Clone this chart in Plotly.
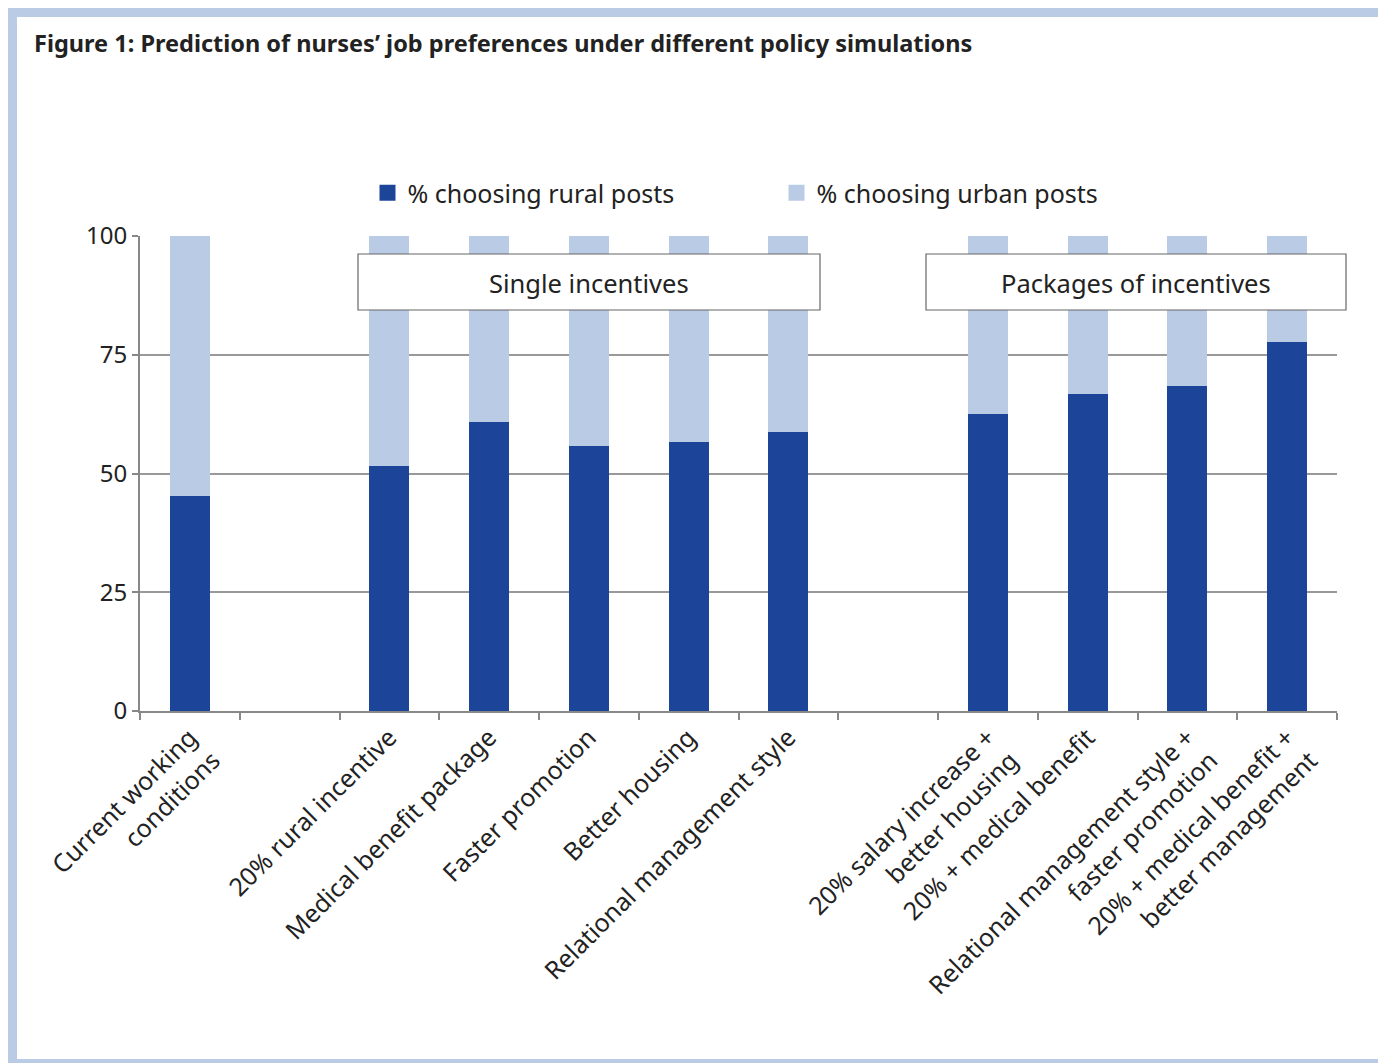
import plotly.graph_objects as go

categories = [
    "Current working<br>conditions", " ",
    "20% rural incentive", "Medical benefit package", "Faster promotion",
    "Better housing", "Relational management style", "  ",
    "20% salary increase +<br>better housing", "20% + medical benefit",
    "Relational management style +<br>faster promotion",
    "20% + medical benefit +<br>better management",
]
rural = [45.2, None, 51.6, 60.8, 55.8, 56.6, 58.7, None, 62.5, 66.7, 68.4, 77.7]
urban = [None if r is None else round(100 - r, 1) for r in rural]
series_names = ["% choosing rural posts", "% choosing urban posts"]
group_labels = ["Single incentives", "Packages of incentives"]
colors = ["#1C4498", "#BACBE6"]

# figure-pixel geometry (page is offset by the 8px body margin)
W, H = 1378, 1055
L, R, T, B = 132, 1329, 228, 703
FONT = "Noto Sans"
TXT = "#222222"

def px(x):
    return (x - L) / (R - L)

def py(y):
    return (B - y) / (B - T)

fig = go.Figure()
for vals, name, col in zip([rural, urban], series_names, colors):
    fig.add_trace(go.Bar(x=categories, y=vals, name=name, showlegend=False,
                         marker=dict(color=col, line=dict(width=0))))
# legend entries with larger square swatches
for name, col in zip(series_names, colors):
    fig.add_trace(go.Scatter(x=[None], y=[None], mode="markers", name=name,
                             marker=dict(symbol="square", size=17, color=col)))

shapes = []
border = "#BACBE6"
shapes.append(dict(type="rect", xref="paper", yref="paper", x0=px(0), x1=px(9), y0=py(H), y1=py(0),
                   fillcolor=border, line=dict(width=0), layer="below"))
shapes.append(dict(type="rect", xref="paper", yref="paper", x0=px(0), x1=px(W), y0=py(9), y1=py(0),
                   fillcolor=border, line=dict(width=0), layer="below"))
shapes.append(dict(type="rect", xref="paper", yref="paper", x0=px(0), x1=px(W), y0=py(H), y1=py(H - 4),
                   fillcolor=border, line=dict(width=0), layer="below"))

annotations = []
for (x0, x1), lab in zip([(350, 812), (918, 1338)], group_labels):
    shapes.append(dict(type="rect", xref="paper", yref="paper", x0=px(x0), x1=px(x1), y0=py(302), y1=py(246),
                       fillcolor="white", line=dict(color="#666666", width=1.2), layer="above"))
    annotations.append(dict(xref="paper", yref="paper", x=(px(x0) + px(x1)) / 2, y=py(275),
                            text=lab, showarrow=False, xanchor="center", yanchor="middle",
                            font=dict(family=FONT, size=25.5, color=TXT)))

annotations.append(dict(xref="paper", yref="paper", x=px(24), y=py(35), xanchor="left", yanchor="middle",
                        text="<b>Figure 1: Prediction of nurses’ job preferences under different policy simulations</b>",
                        showarrow=False, font=dict(family=FONT, size=23.5, color=TXT)))

fig.update_layout(
    width=W, height=H,
    margin=dict(l=L, r=W - R, t=T, b=H - B, pad=0),
    barmode="stack", bargap=0.6,
    paper_bgcolor="white", plot_bgcolor="white",
    showlegend=True,
    legend=dict(orientation="h", x=px(359.5), y=py(185), xanchor="left", yanchor="middle",
                font=dict(family=FONT, size=25, color=TXT),
                entrywidth=364, entrywidthmode="pixels", traceorder="normal",
                bgcolor="rgba(0,0,0,0)"),
    xaxis=dict(type="category", showgrid=False, showline=True, linecolor="#888888", linewidth=2,
               ticks="outside", tickson="boundaries", ticklen=7, tickwidth=2, tickcolor="#888888",
               tickangle=-45, tickfont=dict(family=FONT, size=25, color=TXT),
               range=[-0.5, 11.5]),
    yaxis=dict(range=[0, 100], tickvals=[0, 25, 50, 75, 100], showgrid=True, gridcolor="#999999",
               gridwidth=1.5, showline=True, linecolor="#888888", linewidth=2,
               ticks="outside", ticklen=6, tickwidth=2, tickcolor="#888888",
               tickfont=dict(family=FONT, size=24, color=TXT), zeroline=False),
    shapes=shapes, annotations=annotations,
    font=dict(family=FONT),
)

fig.write_html("out.html")
